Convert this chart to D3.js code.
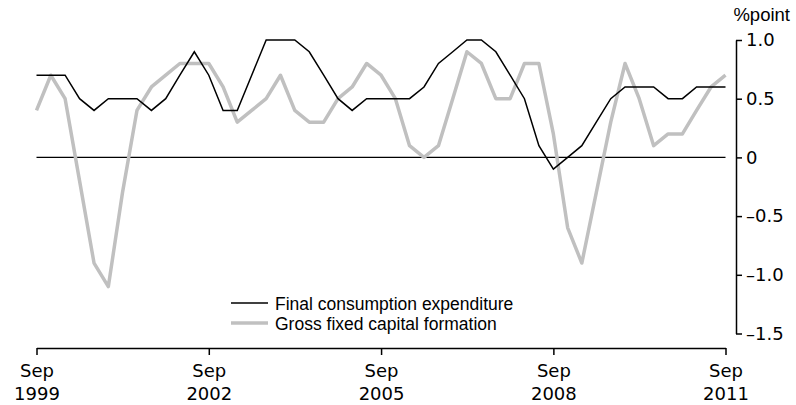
<!DOCTYPE html>
<html>
<head>
<meta charset="utf-8">
<script src="https://cdnjs.cloudflare.com/ajax/libs/d3/7.8.5/d3.min.js"></script>
<style>
    body { margin: 0; background: #ffffff; }
    svg { display: block; }
    .tick-label { font-family: "DejaVu Sans", sans-serif; font-size: 18px; fill: #000; }
    .legend-label { font-family: "Liberation Sans", Arial, sans-serif; font-size: 17.5px; fill: #000; }
</style>
</head>
<body>
<svg id="chart" width="796" height="405"></svg>
<script>
//Data (quarterly, Sep 1999 to Sep 2011)
const startDate = new Date(1999, 8, 1);
const endDate = new Date(2011, 8, 1);
const quarters = d3.timeMonth.range(startDate, d3.timeMonth.offset(endDate, 1), 3);

const seriesNames = ["Final consumption expenditure", "Gross fixed capital formation"];

const consumption = [0.7, 0.7, 0.7, 0.5, 0.4, 0.5, 0.5, 0.5, 0.4, 0.5,
    0.7, 0.9, 0.7, 0.4, 0.4, 0.7, 1.0, 1.0, 1.0, 0.9,
    0.7, 0.5, 0.4, 0.5, 0.5, 0.5, 0.5, 0.6, 0.8, 0.9,
    1.0, 1.0, 0.9, 0.7, 0.5, 0.1, -0.1, 0.0, 0.1, 0.3,
    0.5, 0.6, 0.6, 0.6, 0.5, 0.5, 0.6, 0.6, 0.6];

const capital = [0.4, 0.7, 0.5, -0.2, -0.9, -1.1, -0.3, 0.4, 0.6, 0.7,
    0.8, 0.8, 0.8, 0.6, 0.3, 0.4, 0.5, 0.7, 0.4, 0.3,
    0.3, 0.5, 0.6, 0.8, 0.7, 0.5, 0.1, 0.0, 0.1, 0.5,
    0.9, 0.8, 0.5, 0.5, 0.8, 0.8, 0.2, -0.6, -0.9, -0.3,
    0.3, 0.8, 0.5, 0.1, 0.2, 0.2, 0.4, 0.6, 0.7];

//Tick labels
const xTickYears = [1999, 2002, 2005, 2008, 2011];
const yTicks = [1.0, 0.5, 0, -0.5, -1.0, -1.5];
const yUnit = "%point";

//Measuring data (in px)
let plotLeft = 36.5;
let plotRight = 725.5;
let plotTop = 40;
let plotBottom = 333.5;
let yAxisX = 736;
let xAxisY = 348;

let svg = d3.select("#chart");

//Scales
let xScale = d3.scaleTime()
    .domain([startDate, endDate])
    .range([plotLeft, plotRight]);

let yScale = d3.scaleLinear()
    .domain([-1.5, 1.0])
    .range([plotBottom, plotTop]);

const formatY = (d) => {
    if (d === 0) return "0";
    return (d < 0 ? "\u2013" : "") + Math.abs(d).toFixed(1);
};

//Zero line
svg.append("line")
    .attr("x1", xScale(startDate))
    .attr("x2", xScale(endDate))
    .attr("y1", yScale(0))
    .attr("y2", yScale(0))
    .attr("stroke", "#000")
    .attr("stroke-width", 1.3);

//Lines
let lineGen = d3.line()
    .x((d, i) => xScale(quarters[i]))
    .y((d) => yScale(d));

svg.append("path")
    .datum(capital)
    .attr("fill", "none")
    .attr("stroke", "#c0c0c0")
    .attr("stroke-width", 3.5)
    .attr("stroke-linejoin", "round")
    .attr("d", lineGen);

svg.append("path")
    .datum(consumption)
    .attr("fill", "none")
    .attr("stroke", "#000")
    .attr("stroke-width", 1.5)
    .attr("d", lineGen);

//Y axis (right side)
let yAxis = svg.append("g")
    .attr("transform", `translate(${yAxisX},0)`)
    .call(d3.axisRight(yScale).tickValues(yTicks).tickSize(6).tickSizeOuter(0).tickFormat(formatY));

yAxis.attr("font-family", null).attr("font-size", null);
yAxis.select(".domain").attr("stroke-width", 1.5);
yAxis.selectAll(".tick line").attr("stroke-width", 1.5);
yAxis.selectAll(".tick text")
    .attr("class", "tick-label")
    .attr("x", 10);

svg.append("text")
    .attr("class", "legend-label")
    .attr("x", 790)
    .attr("y", 21)
    .attr("text-anchor", "end")
    .style("font-size", "18.5px")
    .text(yUnit);

//X axis (bottom)
let xTickDates = xTickYears.map((y) => new Date(y, 8, 1));

let xAxis = svg.append("g")
    .attr("transform", `translate(0,${xAxisY})`)
    .call(d3.axisBottom(xScale).tickValues(xTickDates).tickSize(7).tickSizeOuter(0).tickFormat(""));

xAxis.attr("font-family", null).attr("font-size", null);
xAxis.select(".domain").attr("stroke-width", 1.5);
xAxis.selectAll(".tick line").attr("stroke-width", 1.5);

let xLabels = xAxis.selectAll(".tick text")
    .attr("class", "tick-label")
    .attr("y", 0)
    .attr("dy", null)
    .attr("text-anchor", "middle");

xLabels.append("tspan").attr("x", 0).attr("y", 29).text("Sep");
xLabels.append("tspan").attr("x", 0).attr("y", 52).text((d) => d.getFullYear());

//Legend
let legend = svg.append("g")
    .attr("transform", "translate(231,303)");

const legendStyles = [
    { color: "#000", width: 1.5 },
    { color: "#c0c0c0", width: 3.5 }
];

seriesNames.forEach((name, i) => {
    let row = legend.append("g").attr("transform", `translate(0,${i * 20})`);
    row.append("line")
        .attr("x1", 0)
        .attr("x2", 37)
        .attr("y1", 0)
        .attr("y2", 0)
        .attr("stroke", legendStyles[i].color)
        .attr("stroke-width", legendStyles[i].width);
    row.append("text")
        .attr("class", "legend-label")
        .attr("x", 44)
        .attr("y", 6.5)
        .text(name);
});
</script>
</body>
</html>
